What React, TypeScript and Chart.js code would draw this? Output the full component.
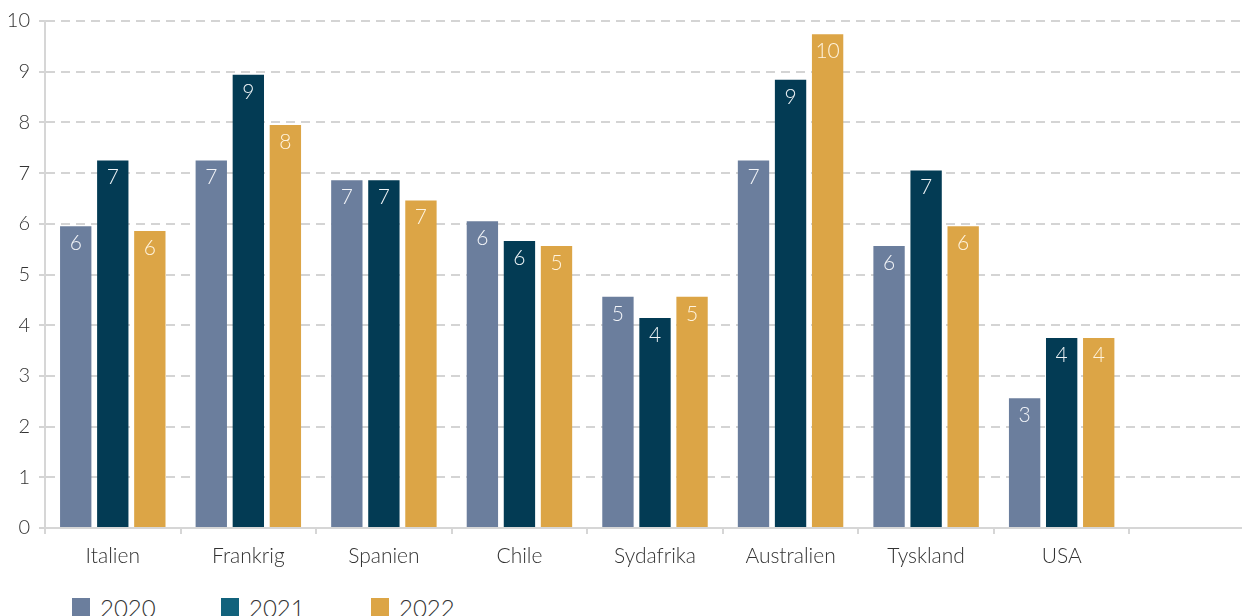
import React, { useEffect, useRef } from "react";
import { Chart, registerables } from "chart.js";

Chart.register(...registerables);

const categories = ["Italien", "Frankrig", "Spanien", "Chile", "Sydafrika", "Australien", "Tyskland", "USA", ""];
const seriesNames = ["2020", "2021", "2022"];
const values2020 = [5.95, 7.25, 6.86, 6.05, 4.56, 7.25, 5.56, 2.56];
const values2021 = [7.25, 8.94, 6.86, 5.66, 4.14, 8.84, 7.05, 3.75];
const values2022 = [5.86, 7.95, 6.46, 5.56, 4.56, 9.74, 5.95, 3.75];
const labels2020 = [6, 7, 7, 6, 5, 7, 6, 3];
const labels2021 = [7, 9, 7, 6, 4, 9, 7, 4];
const labels2022 = [6, 8, 7, 5, 5, 10, 6, 4];
const yMin = 0;
const yMax = 10;
const yStep = 1;

const barColors = ["#6b7e9d", "#033b54", "#dca546"];
const legendColors = ["#6b7e9d", "#12627c", "#dca546"];
const labelColors = ["#f2f4f8", "#eef3f6", "#fff4df"];
const FONT = "Lato, 'Open Sans', sans-serif";

const allValues = [values2020, values2021, values2022];
const allLabels = [labels2020, labels2021, labels2022];

const valueLabelPlugin = {
  id: "valueLabels",
  afterDatasetsDraw(chart: any) {
    const ctx = chart.ctx;
    chart.data.datasets.forEach((_ds: any, di: number) => {
      const meta = chart.getDatasetMeta(di);
      const lbls = allLabels[di];
      meta.data.forEach((bar: any, i: number) => {
        if (lbls[i] == null) return;
        ctx.save();
        ctx.fillStyle = labelColors[di];
        ctx.font = `300 21px ${FONT}`;
        ctx.textAlign = "center";
        ctx.textBaseline = "middle";
        ctx.fillText(String(lbls[i]), bar.x, bar.y + 17);
        ctx.restore();
      });
    });
  },
};

export default function App() {
  const ref = useRef<HTMLCanvasElement | null>(null);

  useEffect(() => {
    if (!ref.current) return;
    const chart = new Chart(ref.current, {
      type: "bar",
      data: {
        labels: categories,
        datasets: seriesNames.map((name, i) => ({
          label: name,
          data: allValues[i],
          backgroundColor: barColors[i],
          borderWidth: 0,
          barPercentage: 0.846,
          categoryPercentage: 0.82,
        })),
      },
      options: {
        responsive: false,
        animation: false,
        layout: { padding: { top: 13, right: 0, left: 0, bottom: 0 } },
        plugins: {
          legend: { display: false },
          tooltip: { enabled: false },
          title: { display: false },
        },
        scales: {
          x: {
            offset: true,
            grid: {
              display: true,
              offset: true,
              drawOnChartArea: false,
              drawTicks: true,
              tickLength: 6,
              color: "#d6d6d6",
              lineWidth: 2,
            },
            border: { display: true, color: "#d6d6d6", width: 2 },
            ticks: {
              color: "#333333",
              font: { family: FONT, size: 21, weight: "300" as any },
              padding: 10,
              maxRotation: 0,
              autoSkip: false,
            },
            afterFit: (scale: any) => {
              scale.height = 50;
              scale.paddingLeft = 0;
              scale.paddingRight = 0;
            },
          },
          y: {
            min: yMin,
            max: yMax,
            grid: {
              color: "#d4d4d4",
              lineWidth: 2,
              tickLength: 6,
            },
            border: { display: true, color: "#d6d6d6", width: 2, dash: [9, 6] },
            ticks: {
              stepSize: yStep,
              color: "#333333",
              font: { family: FONT, size: 20, weight: "300" as any },
              padding: 9,
            },
            afterFit: (scale: any) => {
              scale.width = 37;
              scale.paddingTop = 0;
              scale.paddingBottom = 0;
            },
          },
        },
      },
      plugins: [valueLabelPlugin],
    });
    return () => chart.destroy();
  }, []);

  return (
    <div style={{ position: "relative", width: 1242, height: 608, overflow: "hidden" }}>
      <style>{"html,body{overflow:hidden}"}</style>
      <canvas ref={ref} width={1257} height={570} style={{ display: "block", width: 1257, height: 570 }} />
      {seriesNames.map((name, i) => (
        <div
          key={name}
          style={{
            position: "absolute",
            top: 590,
            left: [64, 213, 363][i],
            display: "flex",
            alignItems: "flex-start",
            fontFamily: FONT,
            fontWeight: 300,
            fontSize: 24,
            lineHeight: "18px",
            color: "#333333",
          }}
        >
          <span style={{ display: "inline-block", width: 18, height: 18, background: legendColors[i], marginRight: 10 }} />
          <span style={{ paddingTop: 1 }}>{name}</span>
        </div>
      ))}
    </div>
  );
}
